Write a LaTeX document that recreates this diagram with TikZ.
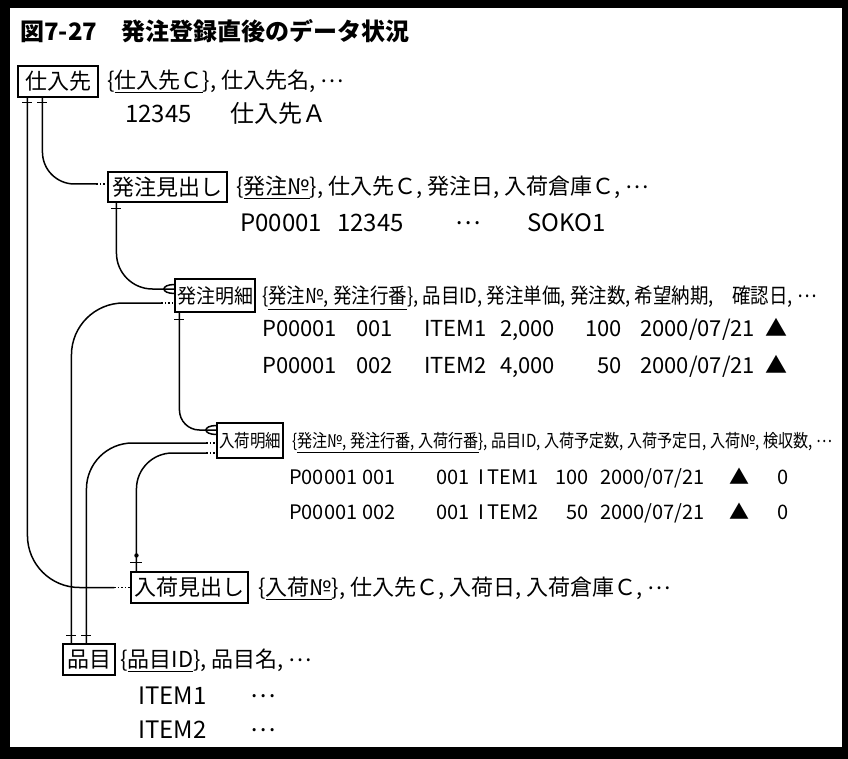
\documentclass[tikz,border=0pt]{standalone}
\usepackage{graphicx}
\usepackage{fontspec}
\setmainfont{Noto Sans CJK JP}
\newcommand{\crowfoot}[1]{\draw[conn] ([yshift=4.5pt]#1) .. controls +(-14pt,0pt) and +(-14pt,0pt) .. ([yshift=-4.5pt]#1);}
\newcommand{\squeeze}[2]{\scalebox{#1}[1]{#2}}
\newcommand{\middots}{\raisebox{0.3em}{…}}
\begin{document}
\begin{tikzpicture}[x=1pt,y=-1pt,
    ent/.style={draw,line width=1.1pt,inner sep=0pt,font=\fontsize{22}{24}\selectfont},
    attr/.style={anchor=west,inner sep=0pt,yshift=-4pt,text height=0.9em,text depth=0.17em,font=\fontsize{22}{24}\selectfont},
    val/.style={attr,font=\fontsize{24}{26}\selectfont},
    hmval/.style={attr,font=\fontsize{22}{24}\selectfont},
    nmval/.style={attr,font=\fontsize{20}{22}\selectfont},
    conn/.style={line width=1.5pt},
    opt/.style={line width=1.5pt,dash pattern=on 1.5pt off 2pt},
    bar/.style={line width=1.5pt}]
    \fill[black] (0,0) rectangle (848,759);
    \fill[white] (10,8) rectangle (842,747);

    \node[attr,font=\fontsize{24}{26}\selectfont\bfseries] (title) at (20,33) {図7-27　発注登録直後のデータ状況};

    \node[ent,minimum width=80pt,minimum height=31pt] (sup) at (58,81.5) {仕入先};
    \node[ent,minimum width=119pt,minimum height=30pt] (hmi) at (167.5,187) {発注見出し};
    \node[ent,minimum width=80pt,minimum height=33pt,font=\fontsize{20}{22}\selectfont] (hm) at (215,295.5) {\squeeze{0.95}{発注明細}};
    \node[ent,minimum width=66pt,minimum height=35pt,font=\fontsize{18}{20}\selectfont] (nm) at (250,440.5) {\squeeze{0.86}{入荷明細}};
    \node[ent,minimum width=117pt,minimum height=31pt] (nhd) at (189.5,587.5) {入荷見出し};
    \node[ent,minimum width=52pt,minimum height=31pt] (hin) at (89,659.5) {品目};

    \node[attr] (supkey) at (107,81) {\{\underline{仕入先Ｃ}\}, 仕入先名, \middots};
    \node[val] (sup-1) at (125,115) {12345};
    \node[val] (sup-2) at (230,115) {仕入先Ａ};

    \node[attr] (hmikey) at (236,187) {\{\underline{発注№}\}, 仕入先Ｃ, 発注日, 入荷倉庫Ｃ, \middots};
    \foreach \x/\t [count=\i] in {240/P00001,337/12345,455/\middots,527/SOKO1}
        \node[val] (hmi-\i) at (\x,224) {\t};

    \node[attr,font=\fontsize{21}{23}\selectfont] (hmkey) at (262,296) {\squeeze{0.88}{\{\underline{発注№, 発注行番}\}, 品目ID, 発注単価, 発注数, 希望納期,\quad 確認日, \middots}};
    \foreach \x/\t [count=\i] in {262/P00001,356/001,424/ITEM1,500/{2,000},640/{2000/07/21},765/▲}
        \node[hmval] (hma-\i) at (\x,329) {\t};
    \node[hmval,anchor=east] (hma-q) at (622,329) {100};
    \foreach \x/\t [count=\i] in {262/P00001,356/002,424/ITEM2,500/{4,000},640/{2000/07/21},765/▲}
        \node[hmval] (hmb-\i) at (\x,366) {\t};
    \node[hmval,anchor=east] (hmb-q) at (622,366) {50};

    \node[attr,font=\fontsize{18}{20}\selectfont] (nmkey) at (292,440) {\squeeze{0.84}{\{\underline{発注№, 発注行番, 入荷行番}\}, 品目ID, 入荷予定数, 入荷予定日, 入荷№, 検収数, \middots}};
    \foreach \x/\t [count=\i] in {289/P00001,362/001,436/001,478/I\,TEM1,600/{2000/07/21},729/▲,777/0}
        \node[nmval] (nma-\i) at (\x,477) {\t};
    \node[nmval,anchor=east] (nma-q) at (589,477) {100};
    \foreach \x/\t [count=\i] in {289/P00001,362/002,436/001,478/I\,TEM2,600/{2000/07/21},729/▲,777/0}
        \node[nmval] (nmb-\i) at (\x,512) {\t};
    \node[nmval,anchor=east] (nmb-q) at (589,512) {50};

    \node[attr] (nhdkey) at (258,588) {\{\underline{入荷№}\}, 仕入先Ｃ, 入荷日, 入荷倉庫Ｃ, \middots};

    \node[attr] (hinkey) at (120,660) {\{\underline{品目ID}\}, 品目名, \middots};
    \node[val] (hin-1) at (138,697) {ITEM1};
    \node[val] (hin-2) at (250,697) {\middots};
    \node[val] (hin-3) at (138,731) {ITEM2};
    \node[val] (hin-4) at (250,731) {\middots};

    \coordinate (hmiin) at ([yshift=3pt]hmi.west);
    \coordinate (hmin) at ([yshift=6.5pt]hm.west);
    \coordinate (hmopt) at ([yshift=-7.5pt]hm.west);
    \coordinate (nmin) at ([yshift=10.5pt]nm.west);
    \coordinate (nmhin) at ([yshift=-2.5pt]nm.west);
    \coordinate (nmnhd) at ([yshift=-12.5pt]nm.west);
    \coordinate (nhdin) at (nhd.west);

    \draw[conn,rounded corners=32pt] ([xshift=25pt]sup.south west) |- ([xshift=-11pt]hmiin);
    \draw[opt] ([xshift=-11pt]hmiin) -- (hmiin);
    \draw[conn,rounded corners=52pt] ([xshift=10pt]sup.south west) |- ([xshift=-16pt]nhdin);
    \draw[opt] ([xshift=-16pt]nhdin) -- (nhdin);
    \draw[bar] ([xshift=5pt,yshift=-5pt]sup.south west) -- ++(10,0);
    \draw[bar] ([xshift=20pt,yshift=-5pt]sup.south west) -- ++(10,0);

    \draw[conn,rounded corners=36pt] ([xshift=9pt]hmi.south west) |- (hmin);
    \crowfoot{hmin}
    \draw[bar] ([xshift=4pt,yshift=-6pt]hmi.south west) -- ++(10,0);

    \draw[conn,rounded corners=52pt] ([xshift=-13pt]hmopt) -| ([xshift=9pt]hin.north west);
    \draw[opt] ([xshift=-13pt]hmopt) -- (hmopt);

    \draw[conn,rounded corners=20pt] ([xshift=5pt]hm.south west) |- (nmin);
    \crowfoot{nmin}
    \draw[bar] ([yshift=-7pt]hm.south west) -- ++(10,0);

    \draw[conn,rounded corners=46pt] ([xshift=-10pt]nmhin) -| ([xshift=24pt]hin.north west);
    \draw[opt] ([xshift=-10pt]nmhin) -- (nmhin);
    \draw[conn,rounded corners=36pt] ([xshift=-10pt]nmnhd) -| ([xshift=6pt]nhd.north west);
    \draw[opt] ([xshift=-10pt]nmnhd) -- (nmnhd);

    \draw[bar] ([xshift=4pt,yshift=8pt]hin.north west) -- ++(10,0);
    \draw[bar] ([xshift=19pt,yshift=8pt]hin.north west) -- ++(10,0);
    \draw[bar] ([yshift=9pt]nhd.north west) -- ++(12,0);
    \fill ([xshift=6pt,yshift=16pt]nhd.north west) circle (2.2pt);
\end{tikzpicture}
\end{document}
